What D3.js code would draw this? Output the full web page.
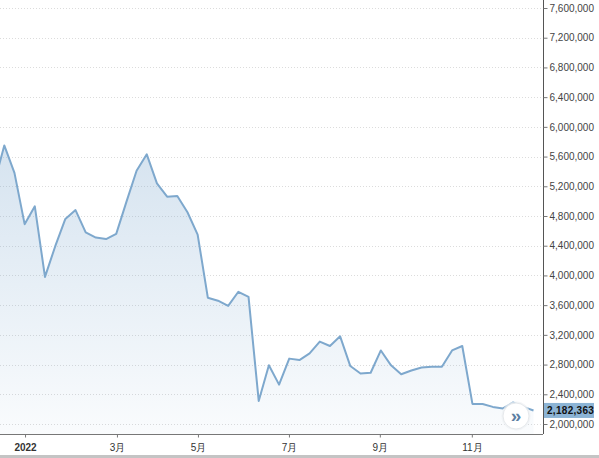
<!DOCTYPE html>
<html>
<head>
<meta charset="utf-8">
<script src="https://cdn.jsdelivr.net/npm/d3@7"></script>
<style>
  body { margin: 0; background: #fff; }
  svg { display: block; font-family: "Liberation Sans", Arial, "Noto Sans CJK SC", sans-serif; }
</style>
</head>
<body>
<div id="content"></div>
<script>
// weekly values, 2022 (first point sits just off the left edge)
let values = [
  5230000, 5750000, 5380000, 4690000, 4930000, 3980000, 4390000, 4760000, 4880000, 4580000,
  4510000, 4490000, 4560000, 4990000, 5410000, 5630000, 5240000, 5060000, 5070000, 4850000,
  4550000, 3700000, 3660000, 3590000, 3780000, 3710000, 2310000, 2790000, 2530000, 2880000,
  2860000, 2950000, 3110000, 3050000, 3180000, 2780000, 2680000, 2690000, 2990000, 2790000,
  2670000, 2720000, 2760000, 2770000, 2770000, 2990000, 3050000, 2270000, 2270000, 2230000,
  2210000, 2290000, 2230000, 2182363
];

// x-axis labels and where they fall, in point index units
let tickLabels = ['2022', '3月', '5月', '7月', '9月', '11月'];
let tickIndex = [3.04, 12.07, 20.03, 28.97, 37.9, 46.94];

let yTicks = d3.range(2000000, 7600001, 400000);

let width = 599, height = 458;
let plotRight = 543, plotBottom = 434;

let svg = d3.select('#content').append('svg')
  .attr('width', width)
  .attr('height', height);

let x = d3.scaleLinear()
  .domain([0, values.length - 1])
  .range([-5.9, 533.5]);

let y = d3.scaleLinear()
  .domain([2000000, 7600000])
  .range([424, 8]);

let defs = svg.append('defs');
defs.append('clipPath').attr('id', 'plot')
  .append('rect').attr('x', 0).attr('y', 0).attr('width', plotRight).attr('height', plotBottom);

let grad = defs.append('linearGradient')
  .attr('id', 'fill')
  .attr('gradientUnits', 'userSpaceOnUse')
  .attr('x1', 0).attr('x2', 0)
  .attr('y1', y(d3.max(values))).attr('y2', plotBottom);
grad.append('stop').attr('offset', 0).attr('stop-color', '#7da8cf').attr('stop-opacity', 0.32);
grad.append('stop').attr('offset', 1).attr('stop-color', '#7da8cf').attr('stop-opacity', 0.04);

// grid
svg.append('g')
  .selectAll('line')
  .data(yTicks)
  .join('line')
  .attr('x1', 0).attr('x2', plotRight)
  .attr('y1', d => Math.round(y(d)) + 0.5).attr('y2', d => Math.round(y(d)) + 0.5)
  .attr('stroke', '#dcdcdc')
  .attr('stroke-dasharray', '1,2');

let plot = svg.append('g').attr('clip-path', 'url(#plot)');

let area = d3.area()
  .x((d, i) => x(i))
  .y0(plotBottom)
  .y1(d => y(d));

let line = d3.line()
  .x((d, i) => x(i))
  .y(d => y(d));

plot.append('path')
  .datum(values)
  .attr('d', area)
  .attr('fill', 'url(#fill)');

plot.append('path')
  .datum(values)
  .attr('d', line)
  .attr('fill', 'none')
  .attr('stroke', '#7ea8cd')
  .attr('stroke-width', 2)
  .attr('stroke-linejoin', 'round');

// y axis on the right
let yAxis = svg.append('g')
  .attr('transform', `translate(${plotRight + 0.5},0)`)
  .call(d3.axisRight(y).tickValues(yTicks).tickSize(4).tickPadding(2).tickFormat(d3.format(',')));
yAxis.select('.domain').attr('d', `M0,0V${plotBottom}`).attr('stroke', '#555');
yAxis.selectAll('.tick line').attr('stroke', '#777');
yAxis.selectAll('.tick text').attr('fill', '#444').attr('font-size', 10);

// x axis
let xAxis = svg.append('g')
  .attr('transform', `translate(0,${plotBottom + 0.5})`)
  .call(d3.axisBottom(x).tickValues(tickIndex).tickSize(3).tickPadding(6)
    .tickFormat((d, i) => tickLabels[i]));
xAxis.select('.domain').attr('d', `M0,0H${plotRight}`).attr('stroke', '#777');
xAxis.selectAll('.tick line').attr('stroke', '#777');
xAxis.selectAll('.tick text')
  .attr('fill', '#333')
  .attr('font-size', 10)
  .attr('font-weight', (d, i) => i === 0 ? 'bold' : 'normal');

// last value label
let last = values[values.length - 1];
let lab = svg.append('g').attr('transform', `translate(${plotRight + 1},${y(last)})`);
lab.append('rect')
  .attr('x', 0).attr('y', -7.5)
  .attr('width', 50).attr('height', 15)
  .attr('fill', '#8cb4d5');
lab.append('text')
  .attr('x', 3).attr('y', 0)
  .attr('dy', '0.35em')
  .attr('font-size', 10)
  .attr('font-weight', 'bold')
  .attr('letter-spacing', 0.3)
  .attr('fill', '#111')
  .text(d3.format(',')(last));

// navigation button
let btn = svg.append('g').attr('transform', 'translate(516,416)');
btn.append('circle').attr('r', 14.5).attr('fill', '#eef1f4').attr('opacity', 0.7);
btn.append('circle').attr('r', 13).attr('fill', '#fff').attr('stroke', '#e6e9ec');
btn.append('text')
  .attr('text-anchor', 'middle')
  .attr('dy', '0.33em')
  .attr('font-size', 19)
  .attr('font-weight', 'bold')
  .attr('fill', '#5d7fa3')
  .text('»');

// bottom strip
svg.append('rect')
  .attr('x', 0).attr('y', 455)
  .attr('width', width).attr('height', 3)
  .attr('fill', '#c4c4c4');
</script>
</body>
</html>
